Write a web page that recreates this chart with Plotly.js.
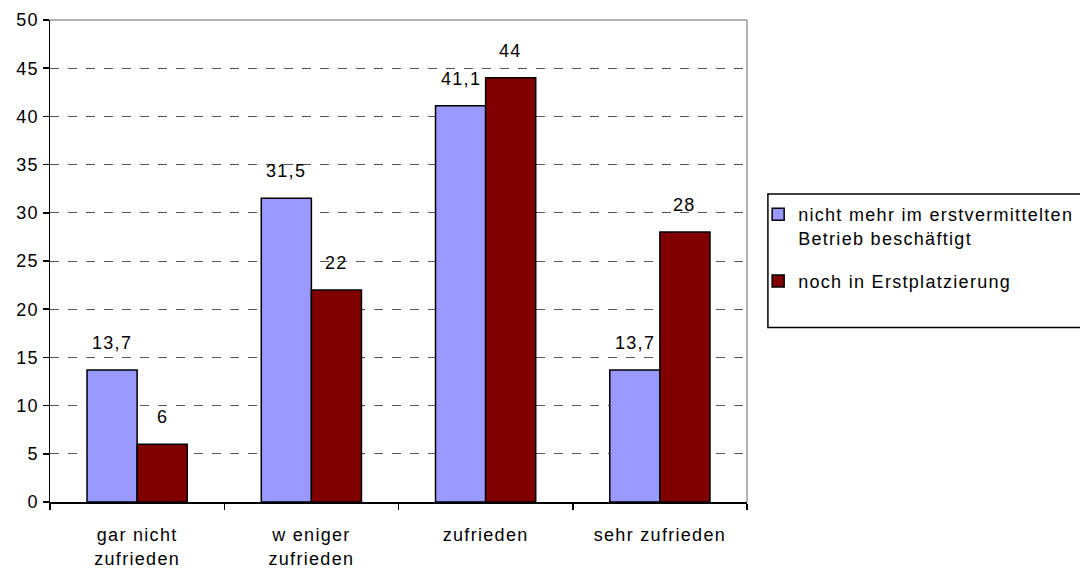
<!DOCTYPE html>
<html>
<head>
<meta charset="utf-8">
<script src="https://cdn.plot.ly/plotly-3.0.1.min.js"></script>
<style>html,body{margin:0;padding:0;background:#fff;}#chart{width:1080px;height:574px;}
svg text{letter-spacing:1.3px;}</style>
</head>
<body>
<div id="chart"></div>
<script>
const categories = ["gar nicht<br>zufrieden", "w eniger<br>zufrieden", "zufrieden", "sehr zufrieden"];
const seriesNames = ["nicht mehr im erstvermittelten<br>Betrieb beschäftigt", "noch in Erstplatzierung"];
const valuesA = [13.7, 31.5, 41.1, 13.7];
const valuesB = [6, 22, 44, 28];
const colors = ["#9999FF", "#800000"];
const yTicks = [0, 5, 10, 15, 20, 25, 30, 35, 40, 45, 50];

const font = {family: "Liberation Sans, Arial, sans-serif", size: 18, color: "#000"};

const traces = [valuesA, valuesB].map((vals, i) => ({
  type: "bar",
  x: categories,
  y: vals,
  name: seriesNames[i],
  legendgroup: "g" + i,
  marker: {color: colors[i], line: {color: "#000", width: 1.5}},
  hoverinfo: "none"
}));

const annotations = [];
[valuesA, valuesB].forEach((vals, i) => {
  vals.forEach((v, j) => {
    annotations.push({
      x: categories[j], y: v, xref: "x", yref: "y",
      text: String(v).replace(".", ","),
      showarrow: false, yanchor: "bottom",
      xshift: i === 0 ? -25 : 25, yshift: 15,
      font: font
    });
  });
});

const shapes = [
  {type: "rect", xref: "paper", yref: "paper", x0: 1.03, x1: 1.6, y0: 0.362, y1: 0.639,
   line: {color: "#000", width: 1.5}, fillcolor: "rgba(0,0,0,0)"},
  {type: "line", xref: "paper", yref: "paper", x0: 0, x1: 1, y0: 1, y1: 1, line: {color: "#999", width: 1.5}},
  {type: "line", xref: "paper", yref: "paper", x0: 1, x1: 1, y0: 0, y1: 1, line: {color: "#999", width: 1.5}}
];

const layout = {
  width: 1080, height: 574,
  margin: {l: 50, r: 333, t: 20, b: 72, autoexpand: false},
  paper_bgcolor: "#fff", plot_bgcolor: "#fff",
  font: font,
  barmode: "group",
  bargap: 0.425,
  bargroupgap: 0,
  showlegend: true,
  legend: {
    x: 1.016, y: 0.635, xanchor: "left", yanchor: "top",
    font: font, bgcolor: "rgba(0,0,0,0)", borderwidth: 0,
    itemwidth: 30, traceorder: "grouped", tracegroupgap: 17, valign: "top"
  },
  xaxis: {
    showline: true, linecolor: "#000", linewidth: 1.5,
    ticks: "outside", tickson: "boundaries", ticklen: 6, tickcolor: "#000", tickwidth: 1.5,
    ticklabelstandoff: 16, automargin: false,
    showgrid: false, tickfont: font, fixedrange: true
  },
  yaxis: {
    range: [0, 50], tickvals: yTicks, ticktext: yTicks.map(String),
    showline: true, linecolor: "#000", linewidth: 1.5,
    ticks: "outside", ticklen: 6, tickcolor: "#000", tickwidth: 1.5,
    showgrid: true, gridcolor: "#555", griddash: "dash", gridwidth: 1,
    zeroline: false, tickfont: font, fixedrange: true, automargin: false
  },
  shapes: shapes,
  annotations: annotations
};

Plotly.newPlot("chart", traces, layout, {displayModeBar: false, staticPlot: true});
</script>
</body>
</html>
